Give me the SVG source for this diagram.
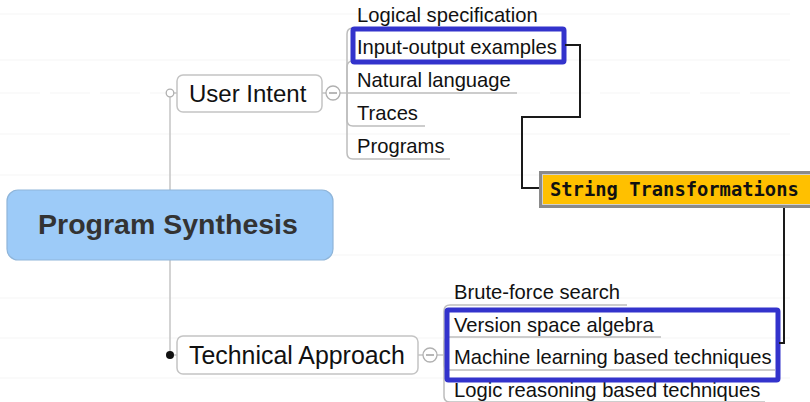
<svg xmlns="http://www.w3.org/2000/svg" width="810" height="402" viewBox="0 0 810 402">
<style>
.bg{stroke:#f5f5f5;stroke-width:1.2;fill:none}
.t{font-family:"Liberation Sans",Arial,sans-serif;fill:#111}
.child{font-size:20.2px}
.ul{stroke:#bdbdbd;stroke-width:1.5;fill:none}
.box{fill:#fff;stroke:#c4c4c4;stroke-width:1.5}
.hl{fill:none;stroke:#3333cc;stroke-width:5}
.conn{fill:none;stroke:#1a1a1a;stroke-width:2}
.tree{fill:none;stroke:#c4c4c4;stroke-width:1.5}
.col{fill:#fff;stroke:#b0b0b0;stroke-width:1.3}
</style>
<rect width="810" height="402" fill="#fff"/>
<g id="background-lines">
<line class="bg" x1="0" y1="14" x2="790" y2="14"/>
<line class="bg" x1="0" y1="60" x2="790" y2="60"/>
<line class="bg" x1="0" y1="93" x2="790" y2="93" stroke-dasharray="40,10"/>
<line class="bg" x1="0" y1="134" x2="790" y2="134"/>
<line class="bg" x1="0" y1="175" x2="540" y2="175"/>
<line class="bg" x1="330" y1="255" x2="790" y2="255"/>
<line class="bg" x1="0" y1="298" x2="790" y2="298"/>
<line class="bg" x1="0" y1="338" x2="790" y2="338"/>
<line class="bg" x1="0" y1="378" x2="790" y2="378"/>
</g>
<g id="tree-lines">
<line class="tree" x1="170" y1="97" x2="170" y2="190"/>
<line class="tree" x1="170" y1="260" x2="170" y2="355"/>
<line class="tree" x1="174" y1="93" x2="177" y2="93"/>
<line class="tree" x1="174" y1="355" x2="177" y2="355"/>
<line class="tree" x1="322" y1="93" x2="326" y2="93"/>
<line class="tree" x1="340" y1="93" x2="347" y2="93"/>
<line class="tree" x1="418" y1="355" x2="423" y2="355"/>
<line class="tree" x1="437" y1="355" x2="444" y2="355"/>
<path class="ul" d="M347 93 V34 Q347 28 353 28 H556"/>
<path class="ul" d="M347 93 V67 Q347 61 353 61 H560"/>
<path class="ul" d="M347 93 H517"/>
<path class="ul" d="M347 93 V120 Q347 126 353 126 H425"/>
<path class="ul" d="M347 93 V153 Q347 159 353 159 H450"/>
<path class="ul" d="M444 355 V311 Q444 305 450 305 H627"/>
<path class="ul" d="M444 355 V343 Q444 337 450 337 H661"/>
<path class="ul" d="M444 355 V364 Q444 370 450 370 H775"/>
<path class="ul" d="M444 355 V396 Q444 402 450 402 H765"/>
</g>
<g id="program-synthesis">
<rect x="7" y="190" width="326" height="70" rx="11" fill="#9dcbf8" stroke="#8fb5d9" stroke-width="1.2"/>
<text class="t" x="168" y="234" text-anchor="middle" font-size="28.5" font-weight="bold" style="fill:#333">Program Synthesis</text>
</g>
<g id="user-intent">
<circle class="col" cx="170" cy="93" r="3.8"/>
<rect class="box" x="177" y="75" width="145" height="37" rx="6"/>
<text class="t" x="189" y="102" font-size="24">User Intent</text>
<circle class="col" cx="333" cy="93" r="7"/>
<line x1="329" y1="93" x2="337" y2="93" stroke="#888" stroke-width="1.2"/>
</g>
<g id="technical-approach">
<circle cx="170" cy="355" r="4" fill="#111"/>
<rect class="box" x="177" y="336" width="241" height="38" rx="6"/>
<text class="t" x="189" y="364" font-size="24.9">Technical Approach</text>
<circle class="col" cx="430" cy="355" r="7"/>
<line x1="426" y1="355" x2="434" y2="355" stroke="#888" stroke-width="1.2"/>
</g>
<g id="intent-children">
<text class="t child" x="357" y="22">Logical specification</text>
<text class="t child" x="357" y="54">Input-output examples</text>
<text class="t child" x="357" y="87">Natural language</text>
<text class="t child" x="357" y="120">Traces</text>
<text class="t child" x="357" y="153">Programs</text>
</g>
<g id="approach-children">
<text class="t child" x="454" y="299">Brute-force search</text>
<text class="t child" x="454" y="332">Version space algebra</text>
<text class="t child" x="454" y="364">Machine learning based techniques</text>
<text class="t child" x="454" y="397">Logic reasoning based techniques</text>
</g>
<g id="highlights">
<rect class="hl" x="353" y="29" width="211" height="33" rx="1.5"/>
<rect class="hl" x="447" y="310" width="331" height="70" rx="1.5"/>
</g>
<g id="connectors">
<path class="conn" d="M565 45 H580 V117 H522 V188 H540"/>
<path class="conn" d="M784 208 V343 H779"/>
</g>
<g id="string-transformations">
<rect x="539" y="171" width="285" height="37" fill="#bdbdbd" opacity="0.6"/>
<rect x="540.5" y="172.5" width="280" height="34" fill="#ffc000" stroke="#8a8a8a" stroke-width="3"/>
<rect x="542.5" y="174.5" width="276" height="30" fill="none" stroke="#d0d0d0" stroke-width="1"/>
<text x="550" y="196" font-family="'DejaVu Sans Mono','Liberation Mono',monospace" font-weight="bold" font-size="18.8" fill="#111">String Transformations</text>
</g>
</svg>
